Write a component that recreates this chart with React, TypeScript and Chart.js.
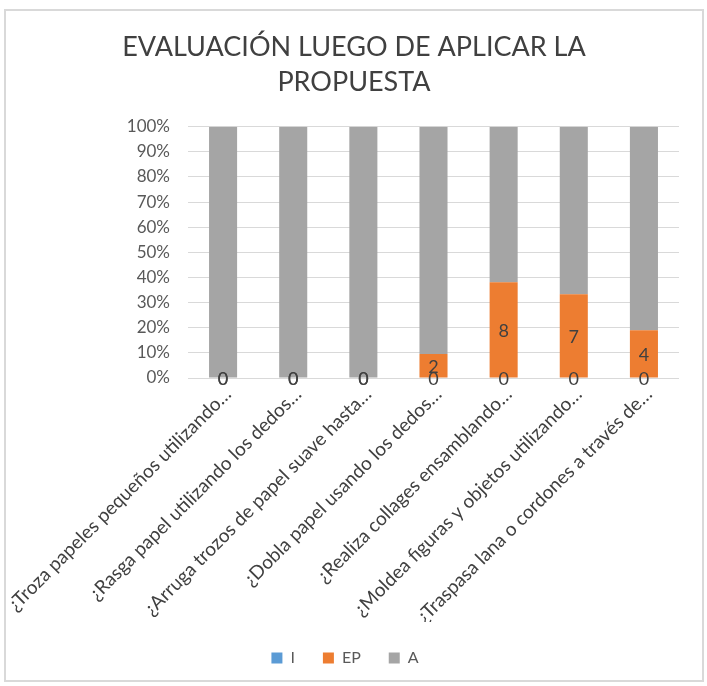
import React, { useEffect, useRef } from "react";
import { Chart, registerables } from "chart.js";

Chart.register(...registerables);

const categories = [
  "¿Troza papeles pequeños utilizando…",
  "¿Rasga papel utilizando los dedos…",
  "¿Arruga trozos de papel suave hasta…",
  "¿Dobla papel usando los dedos…",
  "¿Realiza collages ensamblando…",
  "¿Moldea figuras y objetos utilizando…",
  "¿Traspasa lana o cordones a través de…",
];
const countI = [0, 0, 0, 0, 0, 0, 0];
const countEP = [0, 0, 0, 2, 8, 7, 4];
const countA = [21, 21, 21, 19, 13, 14, 17];
const seriesNames = ["I", "EP", "A"];
const titleLines = ["EVALUACIÓN LUEGO DE APLICAR LA", "PROPUESTA"];

const FONT = "Lato";

export default function App() {
  const ref = useRef<HTMLCanvasElement | null>(null);

  useEffect(() => {
    let chart: Chart | null = null;
    let cancelled = false;
    const counts = [countI, countEP, countA];
    const totals = categories.map((_, i) => countI[i] + countEP[i] + countA[i]);
    const pct = (arr: number[]) => arr.map((v, i) => (totals[i] ? (v / totals[i]) * 100 : 0));

    const labelPlugin = {
      id: "segLabels",
      afterDatasetsDraw(c: any) {
        const ctx = c.ctx;
        ctx.save();
        ctx.font = `18px ${FONT}`;
        ctx.fillStyle = "#404040";
        ctx.textAlign = "center";
        ctx.textBaseline = "middle";
        [0, 1].forEach((di) => {
          const meta = c.getDatasetMeta(di);
          meta.data.forEach((el: any, i: number) => {
            const p = el.getProps(["x", "y", "base"], true);
            ctx.fillText(String(counts[di][i]), p.x, (p.y + p.base) / 2 + 1);
          });
        });
        ctx.restore();
      },
    };

    const legendShift = {
      id: "legendShift",
      afterLayout(c: any) {
        if (c.legend) {
          c.legend.left -= 9;
          c.legend.right -= 9;
        }
      },
    };

    const make = () => {
      if (cancelled || !ref.current) return;
      chart = new Chart(ref.current, {
        type: "bar",
        data: {
          labels: categories,
          datasets: [
            { label: seriesNames[0], data: pct(countI), backgroundColor: "#5b9bd5" },
            { label: seriesNames[1], data: pct(countEP), backgroundColor: "#ed7d31" },
            { label: seriesNames[2], data: pct(countA), backgroundColor: "#a5a5a5" },
          ],
        },
        options: {
          animation: false,
          responsive: true,
          maintainAspectRatio: false,
          datasets: { bar: { barPercentage: 0.4, categoryPercentage: 1 } },
          layout: { autoPadding: false, padding: { left: 0, right: 0, top: 0, bottom: 4 } },
          plugins: {
            tooltip: { enabled: false },
            title: {
              display: true,
              text: titleLines,
              color: "#404040",
              font: { family: FONT, size: 27, weight: "normal", lineHeight: 1.3 },
              padding: { top: 18.5, bottom: 27 },
            },
            legend: {
              position: "bottom",
              labels: {
                color: "#595959",
                font: { family: FONT, size: 16, lineHeight: 1.2 },
                boxWidth: 11,
                boxHeight: 11,
                padding: 28,
              },
            },
          },
          scales: {
            x: {
              stacked: true,
              grid: { display: false },
              border: { display: false },
              ticks: {
                autoSkip: false,
                minRotation: 45,
                maxRotation: 45,
                color: "#404040",
                font: { family: FONT, size: 19 },
                padding: -3,
                labelOffset: 5,
              },
              afterFit: (s: any) => {
                s.height = 244;
                s.paddingLeft = 0;
                s.paddingRight = 23;
                s.paddingTop = 0;
                s.paddingBottom = 0;
              },
            },
            y: {
              stacked: true,
              min: 0,
              max: 100,
              grid: { color: "#d9d9d9", lineWidth: 1, drawTicks: false },
              border: { display: false },
              ticks: {
                stepSize: 10,
                color: "#595959",
                font: { family: FONT, size: 17 },
                padding: 18,
                callback: (v: any) => `${v}%`,
              },
              afterFit: (s: any) => {
                s.width = 182;
                s.paddingTop = 0;
                s.paddingBottom = 0;
                s.paddingLeft = 0;
                s.paddingRight = 0;
              },
            },
          },
        },
        plugins: [labelPlugin, legendShift],
      });
    };

    const fonts: any = (document as any).fonts;
    if (fonts && fonts.load) {
      Promise.all([fonts.load(`16px ${FONT}`), fonts.load(`bold 16px ${FONT}`)])
        .catch(() => {})
        .then(make);
    } else {
      make();
    }
    return () => {
      cancelled = true;
      if (chart) chart.destroy();
    };
  }, []);

  return (
    <div
      style={{
        position: "absolute",
        left: 4,
        top: 9,
        width: 700,
        height: 673,
        border: "2px solid #d9d9d9",
        boxSizing: "border-box",
        background: "#ffffff",
      }}
    >
      <div style={{ position: "relative", width: 696, height: 669 }}>
        <canvas ref={ref} />
      </div>
    </div>
  );
}
